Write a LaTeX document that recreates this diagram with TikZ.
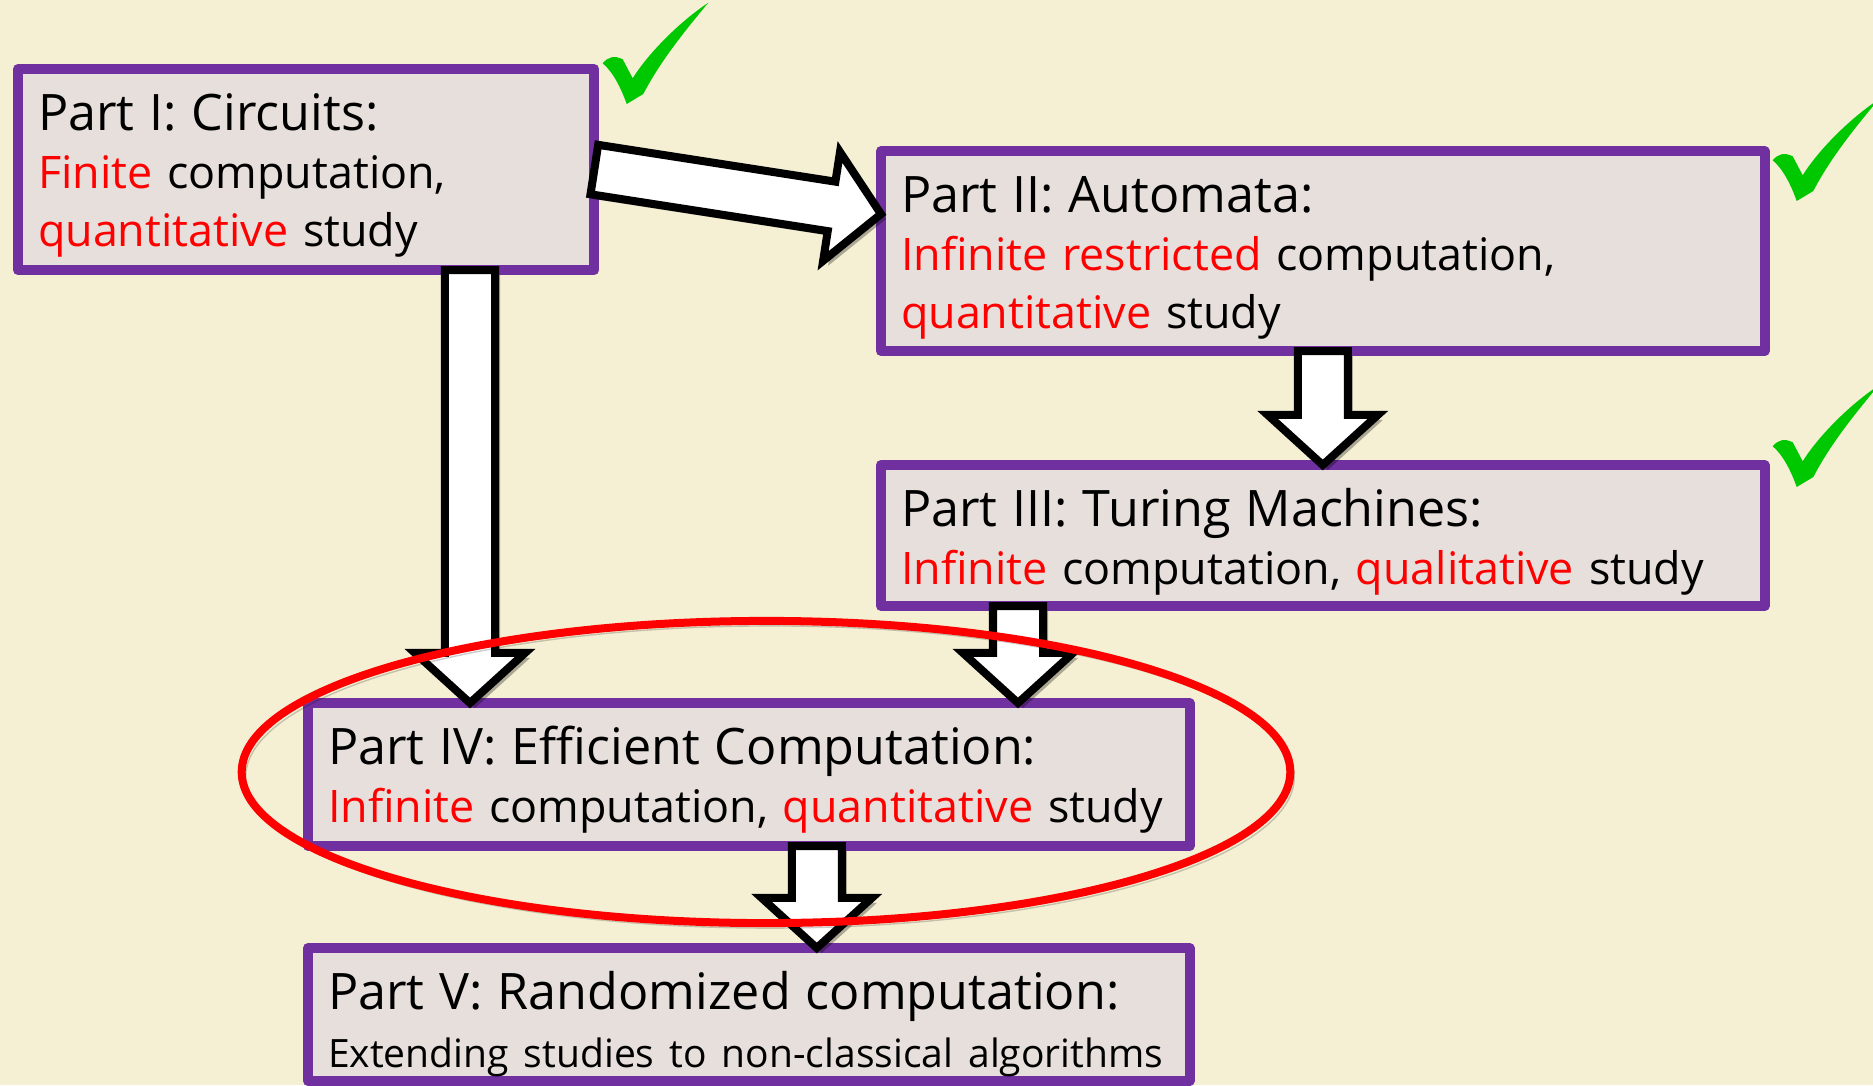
\documentclass[tikz,border=0pt]{standalone}
\usepackage{fontspec}
\setmainfont{Open Sans}
\usepackage{tikz}
\usetikzlibrary{calc,positioning,shadows}

\definecolor{slidebg}{HTML}{F5F0D4}
\definecolor{boxfill}{HTML}{E6DFDB}
\definecolor{boxpurple}{HTML}{7030A0}
\definecolor{hlred}{HTML}{FF0000}
\definecolor{tickgreen}{HTML}{00C800}

\newcommand{\hl}[1]{\textcolor{hlred}{#1}}
\newcommand{\titlesize}{\fontsize{14.3pt}{16.5pt}\selectfont}
\newcommand{\bodysize}{\fontsize{12.75pt}{16.5pt}\selectfont}
\newcommand{\notesize}{\fontsize{11.1pt}{15.6pt}\selectfont}
% block arrow from #1 to #2 (names of nodes/coordinates)
\newcommand{\bigarrow}[2]{%
  \draw[blockarrow] ($(#1)!0.25cm!90:(#2)$)
    -- ($(#2)!0.5cm!(#1)!0.25cm!90:(#2)$)
    -- ($(#2)!0.5cm!(#1)!0.55cm!90:(#2)$)
    -- (#2)
    -- ($(#2)!0.5cm!(#1)!0.55cm!-90:(#2)$)
    -- ($(#2)!0.5cm!(#1)!0.25cm!-90:(#2)$)
    -- ($(#1)!0.25cm!-90:(#2)$) -- cycle;}

\begin{document}
\begin{tikzpicture}[
x=0.01cm, y=-0.01cm,
part/.style={draw=boxpurple, fill=boxfill, line width=0.1cm, line join=round,
  anchor=north west, outer sep=0pt, inner xsep=0.2cm, inner ysep=0pt, text height=0.61cm,
  align=left, font=\bodysize},
blockarrow/.style={draw=black, fill=white, line width=0.08cm,
  preaction={fill=black, opacity=0.3, transform canvas={xshift=0.05cm, yshift=-0.05cm}}},
focusring/.style={draw=hlred, line width=0.08cm,
  preaction={draw=black, opacity=0.2, transform canvas={xshift=0.04cm, yshift=-0.05cm}}}
]
    % slide background
    \fill[slidebg] (0,0) rectangle (1873,1085);
    \useasboundingbox (0,0) rectangle (1873,1085);

    % the five parts
    \node[part, text width=5.36cm, text depth=1.40cm] (p1) at (18,69)
        {{\titlesize Part I: Circuits:}\\ \hl{Finite} computation,\\ \hl{quantitative} study};
    \node[part, text width=8.43cm, text depth=1.39cm] (p2) at (881,151)
        {{\titlesize Part II: Automata:}\\ \hl{Infinite restricted} computation,\\ \hl{quantitative} study};
    \node[part, text width=8.43cm, text depth=0.80cm] (p3) at (881,465)
        {{\titlesize Part III: Turing Machines:}\\ \hl{Infinite} computation, \hl{qualitative} study};
    \node[part, text width=8.41cm, text depth=0.82cm] (p4) at (308,703)
        {{\titlesize Part IV: Efficient Computation:}\\ \hl{Infinite} computation, \hl{quantitative} study};
    \node[part, text width=8.41cm, text depth=0.72cm] (p5) at (308,948)
        {{\titlesize Part V: Randomized computation:}\\ \notesize\mbox{Extending studies to non-classical algorithms}};

    % arrow ends
    \coordinate (a1e) at ($(p2.west)+(0,-37)$);
    \coordinate (a2s) at ($(p1.south west)+(452,0)$);
    \coordinate (a2e) at ($(p4.north west)+(162,0)$);
    \coordinate (a4s) at ($(p3.south west)+(137,0)$);
    \coordinate (a4e) at ($(p4.north west)+(710,0)$);
    \coordinate (a5s) at ($(p4.south)+(68,0)$);
    \coordinate (a5e) at ($(p5.north)+(68,0)$);

    \bigarrow{p1.east}{a1e}
    \bigarrow{a2s}{a2e}
    \bigarrow{p2.south}{p3.north}
    \bigarrow{a4s}{a4e}
    \bigarrow{a5s}{a5e}

    % the red ring round part IV
    \draw[focusring] (766,772) ellipse [x radius=5.24cm, y radius=1.51cm];

    % ticks
    \foreach \dx/\dy in {0/0, 1170/97, 1170/383}
        \fill[tickgreen, shift={(\dx,\dy)}] (602.7,63.3)
            .. controls (608,57) and (614,55) .. (622.7,59.3) -- (632.7,78.3)
            .. controls (645,58) and (675,25) .. (708.3,2.7)
            .. controls (690,25) and (662,58) .. (643.3,94) -- (626.7,104)
            .. controls (621,88) and (613,72) .. cycle;

\end{tikzpicture}
\end{document}
